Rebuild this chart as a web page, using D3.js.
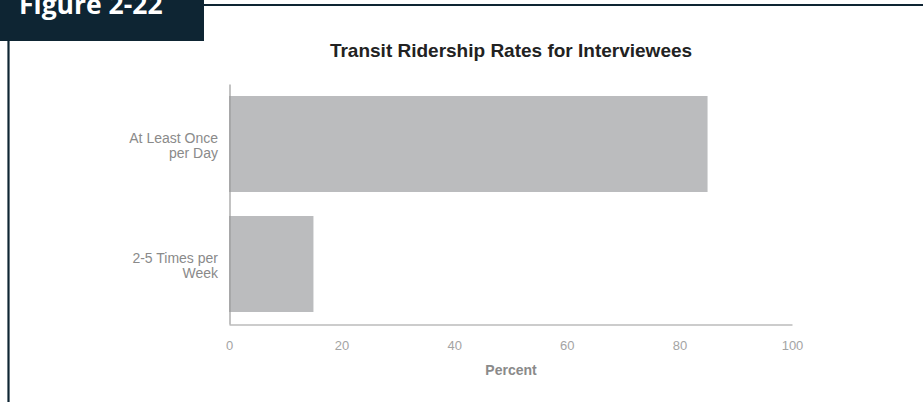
<!DOCTYPE html>
<html>
<head>
<meta charset="utf-8">
<script src="https://cdn.jsdelivr.net/npm/d3@7"></script>
<style>
  html, body { margin: 0; padding: 0; background: #fff; }
  svg { display: block; }
</style>
</head>
<body>
<div id="chart"></div>
<script>
// Ridership frequency categories and share of interviewees (percent)
const categories = [["At Least Once", "per Day"], ["2-5 Times per", "Week"]];
const percents = [85, 15];
const xTicks = [0, 20, 40, 60, 80, 100];

const W = 923, H = 402;
const svg = d3.select("#chart").append("svg").attr("width", W).attr("height", H);

// Figure frame: dark tab, top rule and left rule
const dark = "#0e2533";
svg.append("rect").attr("x", 0).attr("y", 0).attr("width", 204).attr("height", 41).attr("fill", dark);
svg.append("line").attr("x1", 204).attr("x2", W).attr("y1", 5).attr("y2", 5)
  .attr("stroke", dark).attr("stroke-width", 2.2);
svg.append("line").attr("x1", 8.5).attr("x2", 8.5).attr("y1", 41).attr("y2", H)
  .attr("stroke", dark).attr("stroke-width", 2.2);
svg.append("text").attr("x", 19).attr("y", 14)
  .attr("font-family", "'Open Sans', sans-serif").attr("font-weight", 700)
  .attr("font-size", 26.5).attr("fill", "#fff").text("Figure 2-22");

// Plot area
const x = d3.scaleLinear().domain([0, 100]).range([229, 792]);
const y = d3.scaleBand().domain(d3.range(categories.length)).range([84, 324])
  .paddingInner(0.2).paddingOuter(0.1);

svg.append("text").attr("x", 511).attr("y", 57).attr("text-anchor", "middle")
  .attr("font-family", "'Liberation Sans', Arial, sans-serif").attr("font-weight", 700)
  .attr("font-size", 19).attr("fill", "#222").text("Transit Ridership Rates for Interviewees");

svg.append("g").selectAll("rect").data(percents).join("rect")
  .attr("x", x(0)).attr("y", (d, i) => y(i))
  .attr("width", d => x(d) - x(0)).attr("height", y.bandwidth())
  .attr("fill", "#bbbcbe");

// Axes
const axisColor = "#9a9a9a";
const xAxis = svg.append("g").attr("transform", "translate(0,324.5)")
  .call(d3.axisBottom(x).tickValues(xTicks).tickSize(0).tickPadding(16));
xAxis.select(".domain").attr("stroke", axisColor).attr("stroke-width", 1.2);
xAxis.selectAll("text").attr("fill", "#a4a4a4").attr("font-size", 13)
  .attr("font-family", "'Liberation Sans', Arial, sans-serif");

const yAxis = svg.append("g").attr("transform", "translate(229.5,0)")
  .call(d3.axisLeft(y).tickSize(0).tickFormat(""));
yAxis.select(".domain").attr("stroke", axisColor).attr("stroke-width", 1.2);

svg.append("g").selectAll("text").data(categories).join("text")
  .attr("text-anchor", "end")
  .attr("font-family", "'Liberation Sans', Arial, sans-serif").attr("font-size", 14)
  .attr("fill", "#8a8a8a")
  .attr("transform", (d, i) => `translate(218,${y(i) + y.bandwidth() / 2 - 1})`)
  .selectAll("tspan").data(d => d).join("tspan")
  .attr("x", 0).attr("dy", (d, j) => j === 0 ? 0 : 15).text(d => d);

svg.append("text").attr("x", 511).attr("y", 375).attr("text-anchor", "middle")
  .attr("font-family", "'Liberation Sans', Arial, sans-serif").attr("font-weight", 700)
  .attr("font-size", 14).attr("fill", "#8a8a8a").text("Percent");
</script>
</body>
</html>
